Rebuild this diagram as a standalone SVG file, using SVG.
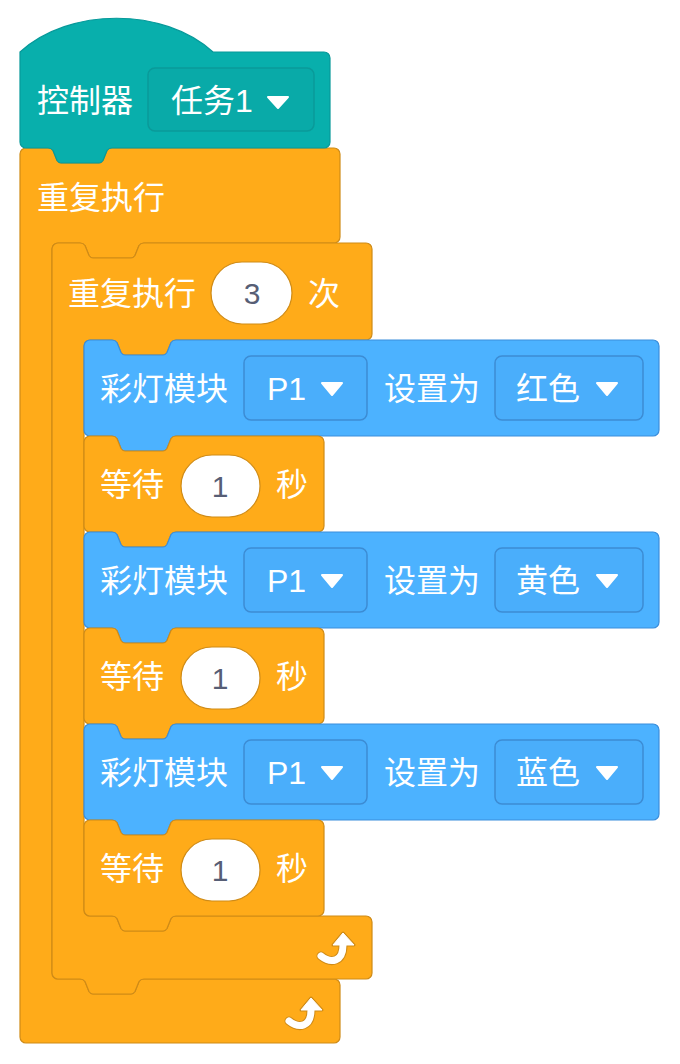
<svg xmlns="http://www.w3.org/2000/svg" xmlns:xlink="http://www.w3.org/1999/xlink" width="680" height="1064" viewBox="0 0 680 1064">
<style>
.ctl{fill:#FFAB19;stroke:#CF8B17;stroke-width:1.2}
.led{fill:#4CB2FF;stroke:#3A8EDC;stroke-width:1.2}
.evt{fill:#08AFAC;stroke:#07999A;stroke-width:1.2}
.dd-led{fill:#4AAEFB;stroke:#3C8CD4;stroke-width:1.5}
.dd-evt{fill:#09AAA8;stroke:#0A9A99;stroke-width:1.5}
.oval{fill:#FFFFFF;stroke:#CF8B17;stroke-width:1.2}
.t{font-family:"Liberation Sans","Noto Sans CJK SC",sans-serif;font-size:32px;fill:#FFFFFF}
.n{font-family:"Liberation Sans","Noto Sans CJK SC",sans-serif;font-size:30px;fill:#575E75;text-anchor:middle}
.tri{fill:#FFFFFF;stroke:#FFFFFF;stroke-width:2;stroke-linejoin:round}
</style>
<defs>
<path id="ledShape" d="M 84,6 A 6,6 0 0 1 90,0 H 112 c 2.5,0 4,1 5,2.5 l 4,10 c 1,1.5 2.5,2.5 4,2.5 h 38 c 1.5,0 3,-1 4,-2.5 l 4,-10 c 1,-1.5 2.5,-2.5 5,-2.5 H 653 A 6,6 0 0 1 659,6 V 90 A 6,6 0 0 1 653,96 H 176 c -2.5,0 -4,1 -5,2.5 l -4,10 c -1,1.5 -2.5,2.5 -4,2.5 h -38 c -1.5,0 -3,-1 -4,-2.5 l -4,-10 c -1,-1.5 -2.5,-2.5 -5,-2.5 H 90 A 6,6 0 0 1 84,90 Z"/>
<path id="waitShape" d="M 84,6 A 6,6 0 0 1 90,0 H 112 c 2.5,0 4,1 5,2.5 l 4,10 c 1,1.5 2.5,2.5 4,2.5 h 38 c 1.5,0 3,-1 4,-2.5 l 4,-10 c 1,-1.5 2.5,-2.5 5,-2.5 H 318 A 6,6 0 0 1 324,6 V 90 A 6,6 0 0 1 318,96 H 176 c -2.5,0 -4,1 -5,2.5 l -4,10 c -1,1.5 -2.5,2.5 -4,2.5 h -38 c -1.5,0 -3,-1 -4,-2.5 l -4,-10 c -1,-1.5 -2.5,-2.5 -5,-2.5 H 90 A 6,6 0 0 1 84,90 Z"/>
<g id="loopArrow">
<path d="M 4,24 C 14,32 26,30 26,13" fill="none" stroke="#CF8B17" stroke-width="9" stroke-linecap="round"/>
<path d="M 16,13 L 26,1 L 37,13 Z" fill="#CF8B17" stroke="#CF8B17" stroke-width="3" stroke-linejoin="round"/>
<path d="M 4,24 C 14,32 26,30 26,13" fill="none" stroke="#FFFFFF" stroke-width="7" stroke-linecap="round"/>
<path d="M 16,13 L 26,1 L 37,13 Z" fill="#FFFFFF" stroke="#FFFFFF" stroke-width="1" stroke-linejoin="round"/>
</g>
</defs>

<g id="forever">
<path class="ctl" d="M 20,154 A 6,6 0 0 1 26,148 H 48 c 2.5,0 4,1 5,2.5 l 4,10 c 1,1.5 2.5,2.5 4,2.5 h 38 c 1.5,0 3,-1 4,-2.5 l 4,-10 c 1,-1.5 2.5,-2.5 5,-2.5 H 334 A 6,6 0 0 1 340,154 V 237 A 6,6 0 0 1 334,243 H 144 c -2.5,0 -4,1 -5,2.5 l -4,10 c -1,1.5 -2.5,2.5 -4,2.5 h -38 c -1.5,0 -3,-1 -4,-2.5 l -4,-10 c -1,-1.5 -2.5,-2.5 -5,-2.5 H 58 A 6,6 0 0 0 52,249 V 973 A 6,6 0 0 0 58,979 H 80 c 2.5,0 4,1 5,2.5 l 4,10 c 1,1.5 2.5,2.5 4,2.5 h 38 c 1.5,0 3,-1 4,-2.5 l 4,-10 c 1,-1.5 2.5,-2.5 5,-2.5 H 334 A 6,6 0 0 1 340,985 V 1037 A 6,6 0 0 1 334,1043 H 26 A 6,6 0 0 1 20,1037 Z"/>
<text class="t" x="37" y="209">重复执行</text>
<use xlink:href="#loopArrow" transform="translate(285,997)"/>
</g>

<g id="repeat3">
<path class="ctl" d="M 52,249 A 6,6 0 0 1 58,243 H 80 c 2.5,0 4,1 5,2.5 l 4,10 c 1,1.5 2.5,2.5 4,2.5 h 38 c 1.5,0 3,-1 4,-2.5 l 4,-10 c 1,-1.5 2.5,-2.5 5,-2.5 H 366 A 6,6 0 0 1 372,249 V 334 A 6,6 0 0 1 366,340 H 176 c -2.5,0 -4,1 -5,2.5 l -4,10 c -1,1.5 -2.5,2.5 -4,2.5 h -38 c -1.5,0 -3,-1 -4,-2.5 l -4,-10 c -1,-1.5 -2.5,-2.5 -5,-2.5 H 90 A 6,6 0 0 0 84,346 V 910 A 6,6 0 0 0 90,916 H 112 c 2.5,0 4,1 5,2.5 l 4,10 c 1,1.5 2.5,2.5 4,2.5 h 38 c 1.5,0 3,-1 4,-2.5 l 4,-10 c 1,-1.5 2.5,-2.5 5,-2.5 H 366 A 6,6 0 0 1 372,922 V 973 A 6,6 0 0 1 366,979 H 144 c -2.5,0 -4,1 -5,2.5 l -4,10 c -1,1.5 -2.5,2.5 -4,2.5 h -38 c -1.5,0 -3,-1 -4,-2.5 l -4,-10 c -1,-1.5 -2.5,-2.5 -5,-2.5 H 58 A 6,6 0 0 1 52,973 Z"/>
<text class="t" x="68" y="305">重复执行</text>
<rect class="oval" x="211" y="262" width="81" height="62" rx="31" ry="31"/>
<text class="n" x="252" y="304">3</text>
<text class="t" x="308" y="305">次</text>
<use xlink:href="#loopArrow" transform="translate(317,932)"/>
</g>

<g id="led1" transform="translate(0,340)">
<use xlink:href="#ledShape" class="led"/>
<text class="t" x="100" y="60">彩灯模块</text>
<rect class="dd-led" x="244" y="16" width="123" height="64" rx="7"/>
<text class="t" x="267" y="60">P1</text>
<path class="tri" d="M 322,43 L 342,43 L 332,55 Z"/>
<text class="t" x="384" y="60">设置为</text>
<rect class="dd-led" x="495" y="16" width="148" height="64" rx="7"/>
<text class="t" x="516" y="60">红色</text>
<path class="tri" d="M 597,43 L 617,43 L 607,55 Z"/>
</g>

<g id="wait1" transform="translate(0,436)">
<use xlink:href="#waitShape" class="ctl"/>
<text class="t" x="100" y="60">等待</text>
<rect class="oval" x="181" y="19" width="79" height="62" rx="31" ry="31"/>
<text class="n" x="220" y="61">1</text>
<text class="t" x="276" y="60">秒</text>
</g>

<g id="led2" transform="translate(0,532)">
<use xlink:href="#ledShape" class="led"/>
<text class="t" x="100" y="60">彩灯模块</text>
<rect class="dd-led" x="244" y="16" width="123" height="64" rx="7"/>
<text class="t" x="267" y="60">P1</text>
<path class="tri" d="M 322,43 L 342,43 L 332,55 Z"/>
<text class="t" x="384" y="60">设置为</text>
<rect class="dd-led" x="495" y="16" width="148" height="64" rx="7"/>
<text class="t" x="516" y="60">黄色</text>
<path class="tri" d="M 597,43 L 617,43 L 607,55 Z"/>
</g>

<g id="wait2" transform="translate(0,628)">
<use xlink:href="#waitShape" class="ctl"/>
<text class="t" x="100" y="60">等待</text>
<rect class="oval" x="181" y="19" width="79" height="62" rx="31" ry="31"/>
<text class="n" x="220" y="61">1</text>
<text class="t" x="276" y="60">秒</text>
</g>

<g id="led3" transform="translate(0,724)">
<use xlink:href="#ledShape" class="led"/>
<text class="t" x="100" y="60">彩灯模块</text>
<rect class="dd-led" x="244" y="16" width="123" height="64" rx="7"/>
<text class="t" x="267" y="60">P1</text>
<path class="tri" d="M 322,43 L 342,43 L 332,55 Z"/>
<text class="t" x="384" y="60">设置为</text>
<rect class="dd-led" x="495" y="16" width="148" height="64" rx="7"/>
<text class="t" x="516" y="60">蓝色</text>
<path class="tri" d="M 597,43 L 617,43 L 607,55 Z"/>
</g>

<g id="wait3" transform="translate(0,820)">
<use xlink:href="#waitShape" class="ctl"/>
<text class="t" x="100" y="60">等待</text>
<rect class="oval" x="181" y="19" width="79" height="62" rx="31" ry="31"/>
<text class="n" x="220" y="61">1</text>
<text class="t" x="276" y="60">秒</text>
</g>

<g id="hat">
<path class="evt" d="M 20,52 C 70,7 163,7 213,52 H 324 A 6,6 0 0 1 330,58 V 142 A 6,6 0 0 1 324,148 H 112 c -2.5,0 -4,1 -5,2.5 l -4,10 c -1,1.5 -2.5,2.5 -4,2.5 h -38 c -1.5,0 -3,-1 -4,-2.5 l -4,-10 c -1,-1.5 -2.5,-2.5 -5,-2.5 H 26 A 6,6 0 0 1 20,142 Z"/>
<text class="t" x="37" y="112">控制器</text>
<rect class="dd-evt" x="148" y="68" width="166" height="63" rx="7"/>
<text class="t" x="171" y="112">任务1</text>
<path class="tri" d="M 268,97 L 288,97 L 278,108 Z"/>
</g>
</svg>
